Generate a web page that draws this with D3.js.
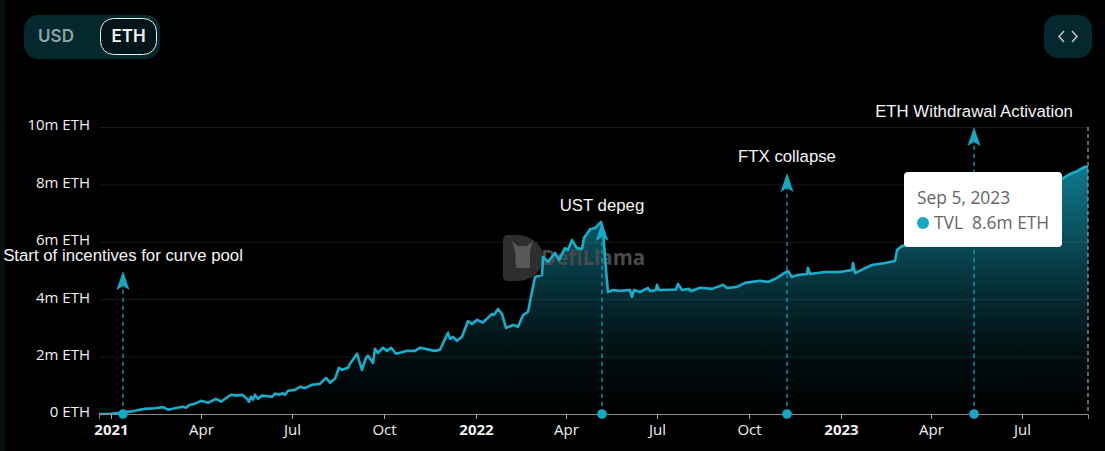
<!DOCTYPE html>
<html>
<head>
<meta charset="utf-8">
<script src="https://cdn.jsdelivr.net/npm/d3@7/dist/d3.min.js"></script>
<style>
    html, body { margin: 0; padding: 0; background: #000; overflow: hidden; }
    #chart { width: 1105px; height: 451px; }
    text { font-family: "Open Sans", "Noto Sans", sans-serif; }
</style>
</head>
<body>
<div id="chart"></div>
<script>
// TVL in million ETH
const tvlDates = [
    "2020-12-20","2020-12-31","2021-01-13","2021-01-25","2021-02-04","2021-02-14","2021-02-22","2021-02-27",
    "2021-03-06","2021-03-14","2021-03-17","2021-03-21","2021-03-26","2021-04-01","2021-04-08","2021-04-16",
    "2021-04-21","2021-05-01","2021-05-07","2021-05-12","2021-05-17","2021-05-19","2021-05-21","2021-05-23",
    "2021-05-25","2021-05-28","2021-06-01","2021-06-11","2021-06-14","2021-06-18","2021-06-22","2021-06-24",
    "2021-06-27","2021-07-04","2021-07-09","2021-07-14","2021-07-21","2021-07-29","2021-08-04","2021-08-08",
    "2021-08-13","2021-08-17","2021-08-20","2021-08-26","2021-08-28","2021-09-04","2021-09-09","2021-09-13",
    "2021-09-15","2021-09-20","2021-09-22","2021-09-25","2021-09-30","2021-10-04","2021-10-08","2021-10-13",
    "2021-10-24","2021-11-01","2021-11-06","2021-11-11","2021-11-21","2021-11-26","2021-12-04","2021-12-06",
    "2021-12-09","2021-12-13","2021-12-18","2021-12-24","2021-12-28","2022-01-02","2022-01-08","2022-01-17",
    "2022-01-19","2022-01-23","2022-01-27","2022-01-31","2022-02-07","2022-02-12","2022-02-17","2022-02-22",
    "2022-02-27","2022-03-01","2022-03-08","2022-03-09","2022-03-14","2022-03-21","2022-03-25","2022-03-31",
    "2022-04-03","2022-04-07","2022-04-12","2022-04-17","2022-04-19","2022-04-25","2022-04-30","2022-05-06",
    "2022-05-08","2022-05-11","2022-05-13","2022-05-18","2022-05-25","2022-06-04","2022-06-06","2022-06-08",
    "2022-06-14","2022-06-22","2022-06-24","2022-06-26","2022-06-30","2022-07-01","2022-07-03","2022-07-20",
    "2022-07-22","2022-07-26","2022-08-02","2022-08-04","2022-08-13","2022-08-25","2022-09-05","2022-09-09",
    "2022-09-19","2022-09-27","2022-10-12","2022-10-20","2022-10-29","2022-11-04","2022-11-09","2022-11-13",
    "2022-11-18","2022-11-28","2022-11-29","2022-12-01","2022-12-16","2022-12-31","2023-01-12","2023-01-13",
    "2023-01-15","2023-01-23","2023-02-01","2023-02-14","2023-02-24","2023-02-26","2023-03-03","2023-03-16",
    "2023-03-31","2023-04-20","2023-05-15","2023-06-09","2023-07-09","2023-07-29","2023-08-11","2023-08-18",
    "2023-08-25","2023-09-02","2023-09-05"
];
const tvlValues = [
    0.0,0.01,0.05,0.11,0.18,0.2,0.24,0.15,
    0.2,0.25,0.22,0.32,0.36,0.46,0.39,0.53,
    0.43,0.67,0.64,0.67,0.53,0.43,0.6,0.5,
    0.67,0.53,0.64,0.6,0.71,0.67,0.72,0.67,
    0.81,0.84,0.95,0.9,1.02,1.05,1.26,1.09,
    1.23,1.61,1.54,1.61,1.75,2.1,1.54,1.96,
    2.03,1.78,2.27,2.13,2.31,2.2,2.31,2.1,
    2.2,2.2,2.31,2.27,2.2,2.24,2.83,2.62,
    2.69,2.55,2.69,3.24,3.14,3.28,3.19,3.49,
    3.45,3.66,3.49,3.0,3.1,3.04,3.45,3.56,
    4.43,4.77,4.84,5.47,5.3,5.61,5.37,5.78,
    5.71,6.06,5.78,5.75,6.13,6.44,6.48,6.69,
    6.41,5.02,4.25,4.32,4.29,4.32,4.08,4.32,
    4.25,4.39,4.3,4.29,4.32,4.5,4.32,4.34,
    4.53,4.32,4.36,4.28,4.4,4.36,4.5,4.39,
    4.43,4.57,4.64,4.6,4.74,4.88,4.98,4.77,
    4.84,4.88,5.09,4.88,4.95,4.95,5.02,5.26,
    4.91,5.05,5.19,5.26,5.33,5.71,5.85,5.96,
    6.2,6.41,6.69,7.1,7.63,7.94,8.22,8.36,
    8.46,8.62,8.6
];

// Events: label, date and the height the arrow reaches
const eventLabels = ["Start of incentives for curve pool", "UST depeg", "FTX collapse", "ETH Withdrawal Activation"];
const eventDates = ["2021-01-13", "2022-05-07", "2022-11-08", "2023-05-14"];
const eventTops = [4.98, 6.69, 8.4, 10];

const yTicks = [0, 2, 4, 6, 8, 10];
const xTicks = [
    "2021-01-01","2021-04-01","2021-07-01","2021-10-01","2022-01-01","2022-04-01",
    "2022-07-01","2022-10-01","2023-01-01","2023-04-01","2023-07-01"
];

const toggleLabels = ["USD", "ETH"];
const tooltipDate = "Sep 5, 2023";
const tooltipSeries = "TVL";
const tooltipValue = "8.6m ETH";

const parseDate = d3.utcParse("%Y-%m-%d");
const lineColor = "#14a8c4";

const svg = d3.select("#chart").append("svg")
    .attr("width", 1105)
    .attr("height", 451);

// Dark strip on the left edge of the page
svg.append("rect")
    .attr("width", 5).attr("height", 451)
    .attr("fill", "#050d0e");

// Scales
const x = d3.scaleUtc()
    .domain([parseDate("2020-12-20"), parseDate("2023-09-05")])
    .range([99, 1088]);
const y = d3.scaleLinear().domain([0, 10]).range([414, 127]);

const defs = svg.append("defs");
const gradient = defs.append("linearGradient")
    .attr("id", "areaFill")
    .attr("gradientUnits", "userSpaceOnUse")
    .attr("x1", 0).attr("x2", 0)
    .attr("y1", y(8.6)).attr("y2", y(0));
gradient.append("stop").attr("offset", "0%").attr("stop-color", lineColor).attr("stop-opacity", 0.72);
gradient.append("stop").attr("offset", "50%").attr("stop-color", lineColor).attr("stop-opacity", 0.27);
gradient.append("stop").attr("offset", "75%").attr("stop-color", lineColor).attr("stop-opacity", 0.09);
gradient.append("stop").attr("offset", "100%").attr("stop-color", lineColor).attr("stop-opacity", 0);

// Grid lines and y axis
svg.append("g")
    .attr("transform", "translate(99,0)")
    .call(d3.axisLeft(y)
        .tickValues(yTicks)
        .tickSize(-989)
        .tickPadding(9)
        .tickFormat(d => d === 0 ? "0 ETH" : `${d}m ETH`))
    .call(g => g.select(".domain").remove())
    .call(g => g.selectAll(".tick line").attr("stroke", "#181818"))
    .call(g => g.selectAll(".tick text")
        .attr("fill", "#f0f0f0")
        .attr("font-size", "15px")
        .attr("y", -2)
        .style("font-family", "'Open Sans', sans-serif"));

// Data
const points = tvlDates.map((d, i) => ({ date: parseDate(d), value: tvlValues[i] }));

svg.append("path")
    .datum(points)
    .attr("fill", "url(#areaFill)")
    .attr("d", d3.area().x(d => x(d.date)).y0(y(0)).y1(d => y(d.value)));

// Watermark
const mark = svg.append("g");
mark.append("path")
    .attr("d", "M503,240 Q503,235 508,235 L520,235 Q543,240 543,258 Q541,278 520,281 L508,281 Q503,281 503,276 Z")
    .attr("fill", "#2e2e2e");
mark.append("path")
    .attr("d", "M512,241 L518,246 L527,246 L533,241 L530,251 L530,268 L516,268 L515,251 Z")
    .attr("fill", "#585858");
mark.append("text")
    .attr("x", 541).attr("y", 265)
    .attr("font-size", "20.5px")
    .attr("font-weight", 700)
    .attr("fill", "#4a4a4a")
    .text("DefiLlama");

// Line
svg.append("path")
    .datum(points)
    .attr("fill", "none")
    .attr("stroke", "#18aecb")
    .attr("stroke-width", 2.6)
    .attr("stroke-linejoin", "round")
    .attr("d", d3.line().x(d => x(d.date)).y(d => y(d.value)));

// x axis
svg.append("g")
    .attr("transform", `translate(0,${y(0)})`)
    .call(d3.axisBottom(x)
        .tickValues(xTicks.map(parseDate))
        .tickSize(5)
        .tickPadding(5)
        .tickFormat(d => d.getUTCMonth() === 0 ? d3.utcFormat("%Y")(d) : d3.utcFormat("%b")(d)))
    .call(g => g.select(".domain").attr("stroke", "#8a8a8a"))
    .call(g => g.selectAll(".tick line").attr("stroke", "#a8a8a8"))
    .call(g => g.selectAll(".tick text")
        .attr("fill", "#f0f0f0")
        .attr("font-size", "15px")
        .attr("font-weight", d => d.getUTCMonth() === 0 ? 700 : 400)
        .style("font-family", "'Open Sans', sans-serif"));

// Event arrows
const events = eventLabels.map((d, i) => ({ label: d, date: parseDate(eventDates[i]), top: eventTops[i] }));
const eventGroup = svg.selectAll(".event")
    .data(events)
    .join("g")
    .attr("class", "event");

eventGroup.append("line")
    .attr("x1", d => x(d.date)).attr("x2", d => x(d.date))
    .attr("y1", y(0)).attr("y2", d => y(d.top) + 10)
    .attr("stroke", lineColor)
    .attr("stroke-opacity", 0.8)
    .attr("stroke-width", 1.5)
    .attr("stroke-dasharray", "4.5 3.5");

eventGroup.append("circle")
    .attr("cx", d => x(d.date)).attr("cy", y(0))
    .attr("r", 4.8)
    .attr("fill", lineColor);

eventGroup.append("path")
    .attr("d", d => {
        const px = x(d.date), py = y(d.top);
        return `M${px},${py} L${px + 6.5},${py + 19} L${px},${py + 15} L${px - 6.5},${py + 19} Z`;
    })
    .attr("fill", lineColor);

eventGroup.append("text")
    .attr("x", d => x(d.date))
    .attr("y", d => y(d.top) - 10.5)
    .attr("text-anchor", "middle")
    .attr("font-size", "16.8px")
    .attr("fill", "#f4f4f4")
    .style("font-family", "'Liberation Sans', Arial, sans-serif")
    .text(d => d.label);

// Axis pointer at the hovered date
svg.append("line")
    .attr("x1", 1088).attr("x2", 1088)
    .attr("y1", 127).attr("y2", y(0))
    .attr("stroke", "#9a9a9a")
    .attr("stroke-width", 1.3)
    .attr("stroke-dasharray", "4 3");

// Tooltip
const tip = svg.append("g").attr("transform", "translate(904,172)");
tip.append("rect")
    .attr("width", 158).attr("height", 75)
    .attr("rx", 4)
    .attr("fill", "#fff");
tip.append("text")
    .attr("x", 13).attr("y", 32)
    .attr("font-size", "17.4px")
    .attr("fill", "#666")
    .text(tooltipDate);
tip.append("circle")
    .attr("cx", 19).attr("cy", 51)
    .attr("r", 6)
    .attr("fill", lineColor);
tip.append("text")
    .attr("x", 30).attr("y", 57)
    .attr("font-size", "17.4px")
    .attr("fill", "#666")
    .attr("xml:space", "preserve")
    .style("white-space", "pre")
    .text(`${tooltipSeries}  ${tooltipValue}`);

// USD / ETH toggle
const toggle = svg.append("g");
toggle.append("rect")
    .attr("x", 24).attr("y", 15)
    .attr("width", 136).attr("height", 44)
    .attr("rx", 14)
    .attr("fill", "#04282d");
toggle.append("rect")
    .attr("x", 100.5).attr("y", 18.5)
    .attr("width", 56).attr("height", 36)
    .attr("rx", 13)
    .attr("fill", "#031518")
    .attr("stroke", "#e6f0f0");
toggle.selectAll(".toggle-label")
    .data(toggleLabels)
    .join("text")
    .attr("class", "toggle-label")
    .attr("x", (d, i) => i === 0 ? 56 : 128.5)
    .attr("y", 42)
    .attr("text-anchor", "middle")
    .attr("font-size", "17px")
    .attr("font-weight", 600)
    .attr("fill", (d, i) => i === 0 ? "#8aa3a5" : "#f2f5f5")
    .style("font-family", "Inter, sans-serif")
    .text(d => d);

// Embed button
svg.append("rect")
    .attr("x", 1044).attr("y", 15)
    .attr("width", 48).attr("height", 43)
    .attr("rx", 14)
    .attr("fill", "#04282d");
svg.append("path")
    .attr("d", "M1064,31 L1059,36.5 L1064,42 M1072,31 L1077,36.5 L1072,42")
    .attr("fill", "none")
    .attr("stroke", "#b9c9c9")
    .attr("stroke-width", 1.5);
</script>
</body>
</html>
